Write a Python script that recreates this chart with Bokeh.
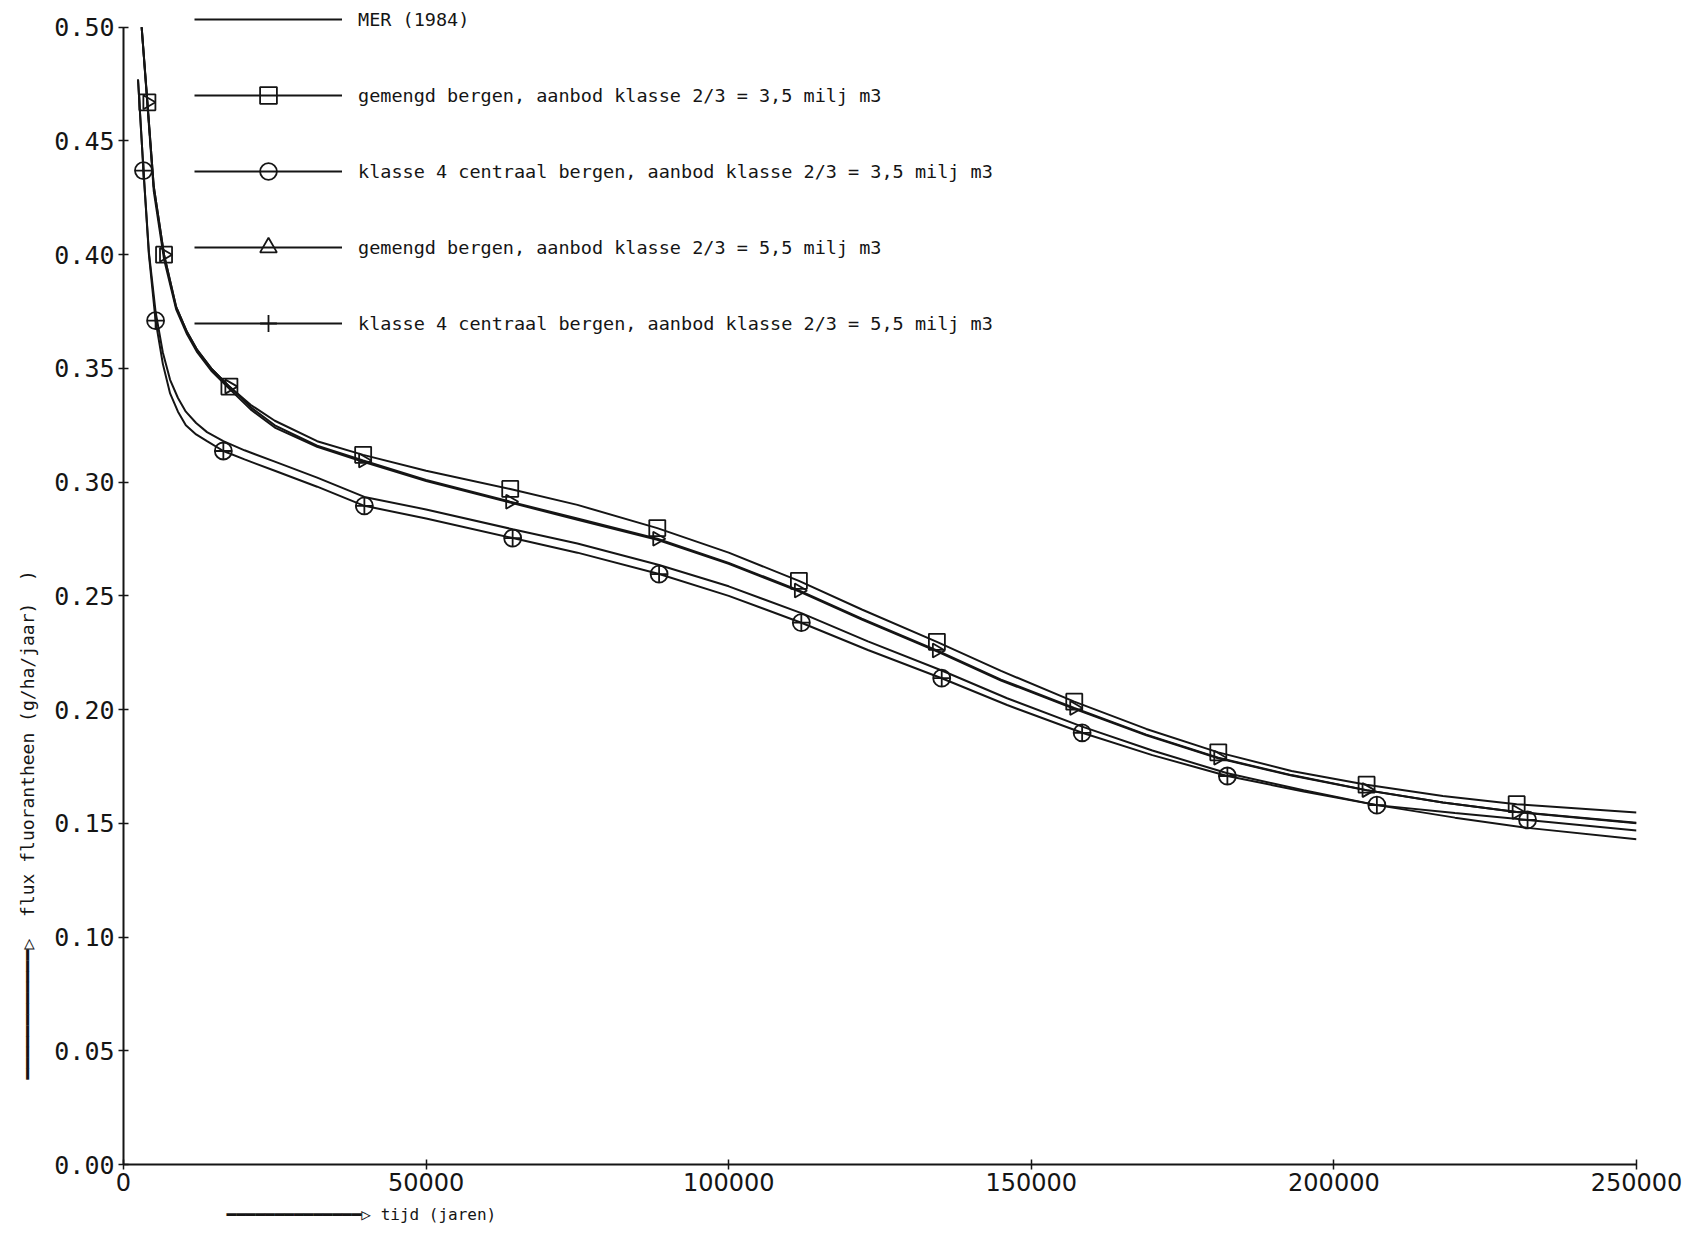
import numpy as np
from bokeh.plotting import figure
from bokeh.models import Range1d, FixedTicker, Legend, LegendItem, Title
from bokeh.embed import file_html
from bokeh.resources import INLINE

# ---------------- data ----------------
# upper group: "gemengd bergen" curves and MER (1984)
x_upper = [3000, 3950, 5000, 6700, 8700, 10500, 12200, 14500, 17500, 21000, 25000,
           32000, 39600, 50000, 63900, 75000, 88200, 100000, 111600, 122000, 134400,
           145000, 157100, 169000, 180900, 193000, 205400, 218000, 230200, 250000]
y_square = [0.500, 0.467, 0.430, 0.400, 0.377, 0.366, 0.358, 0.350, 0.342, 0.334, 0.327,
            0.318, 0.312, 0.305, 0.297, 0.290, 0.2798, 0.2690, 0.2566, 0.2440, 0.2298,
            0.2170, 0.2035, 0.1915, 0.1812, 0.1730, 0.1670, 0.1620, 0.1584, 0.1548]
y_triangle = [0.500, 0.467, 0.430, 0.400, 0.377, 0.366, 0.358, 0.350, 0.342, 0.333, 0.325,
              0.316, 0.3095, 0.301, 0.2914, 0.2840, 0.2751, 0.2645, 0.2524, 0.2400, 0.2260,
              0.2132, 0.2007, 0.1890, 0.1788, 0.1712, 0.1646, 0.1592, 0.1550, 0.1500]
y_mer = [0.500, 0.466, 0.428, 0.398, 0.376, 0.365, 0.357, 0.349, 0.341, 0.332, 0.324,
         0.3155, 0.309, 0.3005, 0.2910, 0.2835, 0.2747, 0.2641, 0.2520, 0.2396, 0.2256,
         0.2128, 0.2003, 0.1887, 0.1786, 0.1710, 0.1645, 0.1592, 0.1550, 0.1502]

# lower group: "klasse 4 centraal bergen" curves
x_lower = [2400, 3300, 4200, 5300, 6500, 7700, 9000, 10300, 12000, 13800, 16500, 20000,
           25000, 32000, 39800, 50000, 64300, 75000, 88500, 100000, 112000, 123000,
           135200, 146000, 158400, 170000, 182400, 195000, 207100, 220000, 232000, 250000]
y_circle = [0.477, 0.437, 0.400, 0.371, 0.352, 0.339, 0.331, 0.325, 0.321, 0.318, 0.3137,
            0.310, 0.305, 0.298, 0.2896, 0.2840, 0.2754, 0.2690, 0.2596, 0.2500, 0.2382,
            0.2262, 0.2138, 0.2020, 0.1898, 0.1800, 0.1708, 0.1640, 0.1580, 0.1545,
            0.1515, 0.1468]
y_plus = [0.477, 0.437, 0.401, 0.375, 0.357, 0.345, 0.337, 0.331, 0.326, 0.322, 0.318,
          0.314, 0.309, 0.302, 0.2935, 0.2880, 0.2793, 0.2730, 0.2636, 0.2542, 0.2424,
          0.2300, 0.2172, 0.2050, 0.1925, 0.1820, 0.1720, 0.1645, 0.1580, 0.1525,
          0.1480, 0.1430]

# marker positions
x_mark_upper = [3950, 6700, 17500, 39600, 63900, 88200, 111600, 134400, 157100, 180900,
                205400, 230200]
y_mark_square = [0.467, 0.400, 0.342, 0.312, 0.297, 0.2798, 0.2566, 0.2298, 0.2035,
                 0.1812, 0.1670, 0.1584]
y_mark_triangle = [0.467, 0.400, 0.342, 0.3095, 0.2914, 0.2751, 0.2524, 0.2260, 0.2007,
                   0.1788, 0.1646, 0.1550]
# circle and plus markers coincide in the source (drawn as a circled plus)
x_mark_lower = [3300, 5300, 16500, 39800, 64300, 88500, 112000, 135200, 158400, 182400,
                207100, 232000]
y_mark_lower = [0.437, 0.371, 0.3137, 0.2896, 0.2754, 0.2596, 0.2382, 0.2138, 0.1898,
                0.1708, 0.1580, 0.1515]

labels = ["MER (1984)",
          "gemengd bergen, aanbod klasse 2/3 = 3,5 milj m3",
          "klasse 4 centraal bergen, aanbod klasse 2/3 = 3,5 milj m3",
          "gemengd bergen, aanbod klasse 2/3 = 5,5 milj m3",
          "klasse 4 centraal bergen, aanbod klasse 2/3 = 5,5 milj m3"]

x_ticks = [0, 50000, 100000, 150000, 200000, 250000]
x_tick_labels = ["0", "50000", "100000", "150000", "200000", "250000"]
y_ticks = [0.0, 0.05, 0.10, 0.15, 0.20, 0.25, 0.30, 0.35, 0.40, 0.45, 0.50]
y_tick_labels = ["0.00", "0.05", "0.10", "0.15", "0.20", "0.25", "0.30", "0.35",
                 "0.40", "0.45", "0.50"]

NB = "\u00a0"
x_title = "tijd (jaren)"
y_title = "flux fluorantheen (g/ha/jaar)" + NB * 2 + ")"
ARROW_X = "\u2501" * 14 + "\u25b7" + NB
ARROW_Y = "\u2501" * 12 + "\u25b7" + NB * 2

# ---------------- figure ----------------
W, H = 1684, 1235
BL, BR, BT, BB = 123, 48, 4, 71
p = figure(width=W, height=H, output_backend="svg", toolbar_location=None,
           x_range=Range1d(0, 250000), y_range=Range1d(0, 0.51),
           min_border_left=BL, min_border_right=BR, min_border_top=BT,
           min_border_bottom=BB)
p.outline_line_color = None
p.grid.visible = False
p.background_fill_color = "white"

INK = "#151515"
LW = 2

r_mer = p.line(x_upper, y_mer, line_color=INK, line_width=LW)
r_sq_l = p.line(x_upper, y_square, line_color=INK, line_width=LW)
r_tri_l = p.line(x_upper, y_triangle, line_color=INK, line_width=LW)
r_ci_l = p.line(x_lower, y_circle, line_color=INK, line_width=LW)
r_pl_l = p.line(x_lower, y_plus, line_color=INK, line_width=LW)

r_sq_m = p.scatter(x_mark_upper, y_mark_square, marker="square", size=16,
                   fill_color=None, line_color=INK, line_width=1.8)
r_tri_m = p.scatter(x_mark_upper, y_mark_triangle, marker="triangle", size=14,
                    angle=-np.pi / 2, fill_color=None, line_color=INK, line_width=1.8)
r_ci_m = p.scatter(x_mark_lower, y_mark_lower, marker="circle", size=17,
                   fill_color=None, line_color=INK, line_width=1.8)
r_pl_m = p.scatter(x_mark_lower, y_mark_lower, marker="cross", size=17,
                   fill_color=None, line_color=INK, line_width=1.8)

# axes
for ax in (p.xaxis[0], p.yaxis[0]):
    ax.axis_line_width = 2
    ax.axis_line_color = INK
    ax.major_tick_line_color = INK
    ax.major_tick_line_width = 1.5
    ax.major_tick_in = 5
    ax.major_tick_out = 5
    ax.minor_tick_line_color = None
    ax.major_label_text_color = INK

p.xaxis.ticker = FixedTicker(ticks=x_ticks)
p.xaxis.major_label_overrides = dict(zip(x_ticks, x_tick_labels))
p.xaxis.major_label_text_font = "DejaVu Sans"
p.xaxis.major_label_text_font_size = "24px"
p.xaxis.major_label_standoff = 3

p.yaxis.ticker = FixedTicker(ticks=y_ticks)
p.yaxis.bounds = (y_ticks[0], y_ticks[-1])
p.yaxis.major_label_overrides = dict(zip(y_ticks, y_tick_labels))
p.yaxis.major_label_text_font = "DejaVu Sans Mono"
p.yaxis.major_label_text_font_size = "25px"
p.yaxis.major_label_standoff = 4

# axis titles (with the arrows of the original drawn as characters)
p.add_layout(Title(text=ARROW_Y + y_title, align="left", offset=85,
                   text_font="DejaVu Sans Mono", text_font_size="18px",
                   text_font_style="normal", text_color=INK, standoff=28),
             "left")
p.add_layout(Title(text=ARROW_X + x_title, align="left", offset=103,
                   text_font="DejaVu Sans Mono", text_font_size="16px",
                   text_font_style="normal", text_color=INK, standoff=19),
             "below")

# legend
items = [LegendItem(label=labels[0], renderers=[r_mer]),
         LegendItem(label=labels[1], renderers=[r_sq_l, r_sq_m]),
         LegendItem(label=labels[2], renderers=[r_ci_l, r_ci_m]),
         LegendItem(label=labels[3], renderers=[r_tri_l, r_tri_m]),
         LegendItem(label=labels[4], renderers=[r_pl_l, r_pl_m])]
legend = Legend(items=items, location=(71, 820), glyph_width=148, glyph_height=42,
                label_height=42, spacing=34, padding=0, margin=0,
                border_line_alpha=0, background_fill_alpha=0, label_standoff=16,
                label_text_font="DejaVu Sans Mono", label_text_font_size="18.5px",
                label_text_color=INK)
p.add_layout(legend)

open("out.html", "w").write(file_html(p, INLINE))
